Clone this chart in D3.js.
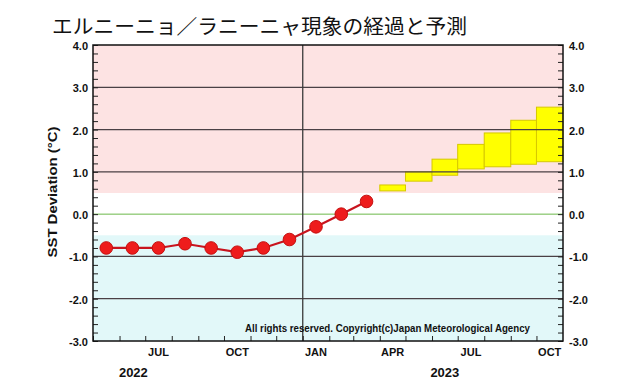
<!DOCTYPE html>
<html><head><meta charset="utf-8">
<script src="https://cdn.jsdelivr.net/npm/d3@7"></script>
<style>body{margin:0;background:#fff}svg{display:block}</style>
</head><body>
<svg id="c" width="640" height="390"></svg>
<script>
// ---- data ----
const obsMonths = ["2022-05","2022-06","2022-07","2022-08","2022-09","2022-10","2022-11","2022-12","2023-01","2023-02","2023-03"];
const obsValues = [-0.8,-0.8,-0.8,-0.7,-0.8,-0.9,-0.8,-0.6,-0.3,0.0,0.3];
const fcMonths = ["2023-04","2023-05","2023-06","2023-07","2023-08","2023-09","2023-10"];
const fcLow  = [0.55,0.78,0.92,1.07,1.12,1.18,1.24];
const fcHigh = [0.69,1.00,1.30,1.65,1.92,2.22,2.53];
const yTickValues = [-3,-2,-1,0,1,2,3,4];
const monthLabels = [{m:"2022-07",t:"JUL"},{m:"2022-10",t:"OCT"},{m:"2023-01",t:"JAN"},{m:"2023-04",t:"APR"},{m:"2023-07",t:"JUL"},{m:"2023-10",t:"OCT"}];
const yearLabels = [{m:"2022-06",t:"2022"},{m:"2023-06",t:"2023"}];
const titleText = "エルニーニョ／ラニーニャ現象の経過と予測";

// ---- layout ----
const L=93,R=563,T=45,B=341;
const parse=d3.timeParse("%Y-%m");
const addM=(d,n)=>d3.timeMonth.offset(d,n);
const x=d3.scaleTime().domain([parse("2022-05"),parse("2023-11")]).range([L,R]);
const y=d3.scaleLinear().domain([-3,4]).range([B,T]);
const mid=m=>{const d=parse(m);return (x(d)+x(addM(d,1)))/2;};
const svg=d3.select("#c");
const font="'Liberation Sans',Arial,Helvetica,sans-serif";

// bands
svg.append("rect").attr("x",L).attr("width",R-L).attr("y",y(4)).attr("height",y(0.5)-y(4)).attr("fill","#fde3e3");
svg.append("rect").attr("x",L).attr("width",R-L).attr("y",y(-0.5)).attr("height",y(-3)-y(-0.5)).attr("fill","#e2f8f9");

// forecast boxes
svg.append("g").selectAll("rect").data(fcMonths).join("rect")
 .attr("x",m=>x(parse(m))).attr("width",m=>x(addM(parse(m),1))-x(parse(m)))
 .attr("y",(m,i)=>y(fcHigh[i])).attr("height",(m,i)=>y(fcLow[i])-y(fcHigh[i]))
 .attr("fill","#ffff00").attr("stroke","#d6c800").attr("stroke-width",1);

// grid lines
svg.append("g").selectAll("line").data(yTickValues.filter(v=>v!==0&&v!==4&&v!==-3)).join("line")
 .attr("x1",L).attr("x2",R).attr("y1",d=>y(d)).attr("y2",d=>y(d)).attr("stroke","#4a4045").attr("stroke-width",1.2);
svg.append("line").attr("x1",L).attr("x2",R).attr("y1",y(0)).attr("y2",y(0)).attr("stroke","#6cb84a").attr("stroke-width",1);
svg.append("line").attr("x1",x(parse("2023-01"))).attr("x2",x(parse("2023-01"))).attr("y1",T).attr("y2",B).attr("stroke","#3a3a3a").attr("stroke-width",1.3);

// axes
const minor=d3.range(-3,4.001,0.2);
const leftAx=d3.axisRight(y).tickValues(minor).tickSize(5).tickFormat("");
const rightAx=d3.axisLeft(y).tickValues(minor).tickSize(5).tickFormat("");
const months=d3.timeMonth.range(parse("2022-05"),parse("2023-11"));
const botAx=d3.axisTop(x).tickValues(months).tickSize(5).tickFormat("");
[svg.append("g").attr("transform",`translate(${L},0)`).call(leftAx),
 svg.append("g").attr("transform",`translate(${R},0)`).call(rightAx),
 svg.append("g").attr("transform",`translate(0,${B})`).call(botAx)].forEach(g=>{
  g.select(".domain").remove(); g.selectAll("line").attr("stroke","#222");
});
svg.append("rect").attr("x",L).attr("y",T).attr("width",R-L).attr("height",B-T).attr("fill","none").attr("stroke","#111").attr("stroke-width",1.5);

// tick labels
const lab=svg.append("g").attr("font-family",font).attr("font-weight","bold").attr("font-size",11).attr("fill","#111");
lab.selectAll(".yl").data(yTickValues).join("text").attr("x",L-5).attr("y",d=>y(d)).attr("dy","0.45em").attr("text-anchor","end").text(d=>d.toFixed(1));
lab.selectAll(".yr").data(yTickValues).join("text").attr("x",R+6).attr("y",d=>y(d)).attr("dy","0.45em").attr("text-anchor","start").text(d=>d.toFixed(1));
lab.selectAll(".ml").data(monthLabels).join("text").attr("x",d=>mid(d.m)).attr("y",356).attr("text-anchor","middle").text(d=>d.t);
lab.selectAll(".yr2").data(yearLabels).join("text").attr("x",d=>mid(d.m)+(d.t==="2022"?1:0)).attr("y",377).attr("font-size",13).attr("text-anchor","middle").text(d=>d.t);

// axis title
svg.append("text").attr("transform","translate(57,192) rotate(-90)").attr("text-anchor","middle")
 .attr("font-family",font).attr("font-weight","bold").attr("font-size",12.5).attr("fill","#111")
 .attr("textLength",131).attr("lengthAdjust","spacingAndGlyphs").text("SST Deviation (°C)");

// copyright
svg.append("text").attr("x",245).attr("y",332).attr("font-family",font).attr("font-weight","bold").attr("font-size",10).attr("fill","#111")
 .attr("textLength",285).attr("lengthAdjust","spacingAndGlyphs").text("All rights reserved. Copyright(c)Japan Meteorological Agency");

// observed line
const line=d3.line().x((d,i)=>mid(obsMonths[i])).y(d=>y(d));
svg.append("path").datum(obsValues).attr("d",line).attr("fill","none").attr("stroke","#c8141e").attr("stroke-width",2.2);
svg.append("g").selectAll("circle").data(obsValues).join("circle")
 .attr("cx",(d,i)=>mid(obsMonths[i])).attr("cy",d=>y(d)).attr("r",6.3)
 .attr("fill","#ee1c1c").attr("stroke","#c41010").attr("stroke-width",1);

// title
svg.append("text").attr("x",52).attr("y",34).attr("font-family","'Noto Sans CJK JP',sans-serif").attr("font-size",20).attr("fill","#111")
 .attr("textLength",415).attr("lengthAdjust","spacingAndGlyphs").text(titleText);
</script>
</body></html>
